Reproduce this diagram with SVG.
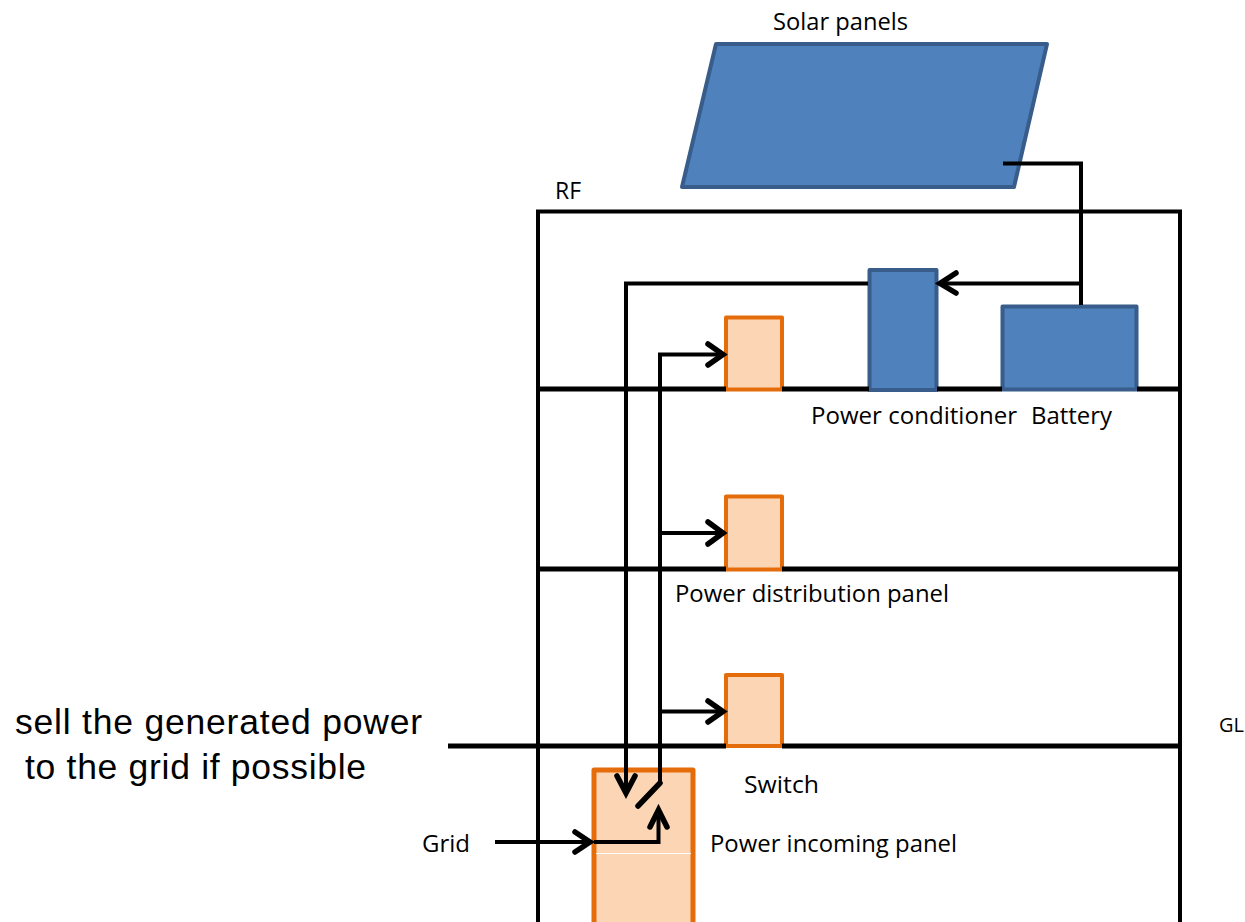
<svg xmlns="http://www.w3.org/2000/svg" width="1245" height="922" viewBox="0 0 1245 922">
<style>
.o{fill:#fcd5b5;stroke:#e46c0a;stroke-width:4;stroke-linejoin:round}
.b{fill:#4f81bd;stroke:#385d8a;stroke-width:4;stroke-linejoin:round}
.w{fill:none;stroke:#000;stroke-width:4;stroke-linejoin:miter}
.f{fill:none;stroke:#000;stroke-width:5}
.a{fill:none;stroke:#000;stroke-width:5.500;stroke-linecap:round;stroke-linejoin:miter}
.t{font-family:"Open Sans","Noto Sans",sans-serif;font-size:24px;fill:#000}
.g{font-family:"Open Sans","Noto Sans",sans-serif;font-size:20px;fill:#000}
.s{font-family:"Liberation Sans",Arial,sans-serif;font-size:35.500px;fill:#000}
</style>
<g id="solar-panels"><path class="b" d="M716 44H1047L1014 187H682Z"/></g>
<g id="power-conditioner"><rect class="b" x="869.500" y="270" width="67" height="120"/></g>
<g id="battery"><rect class="b" x="1002.500" y="306.500" width="134" height="83"/></g>
<g id="panel-rf"><rect class="o" x="726" y="317.500" width="56" height="72"/></g>
<g id="panel-2f"><rect class="o" x="726" y="496.500" width="56" height="73"/></g>
<g id="panel-1f"><rect class="o" x="726" y="675" width="56" height="71"/></g>
<g id="power-incoming-panel">
<path d="M594 770H693V922H594Z" fill="#fcd5b5"/>
<path class="o" d="M594 922V770H693V922" style="fill:none;stroke-width:5"/>
<path d="M596 853.500H691" stroke="#fff" stroke-width="1" fill="none"/>
</g>
<g id="connectors">
<path class="w" d="M538 922V211.500H1180V922"/>
<path class="f" d="M538 389H726M782 389H869M937 389H1002M1137 389H1180"/>
<path class="f" d="M538 569H726M782 569H1180"/>
<path class="f" d="M448 746H726M782 746H1180"/>
<path class="w" d="M1003 163.500H1081V305"/>
<path class="w" d="M1081 283.500H940"/>
<path class="a" d="M956 273L940 283.500L956 293"/>
<path class="w" d="M868 283.500H626V792"/>
<path class="a" d="M617 776L626 793L635 776"/>
<path class="w" d="M660 783V354.500H722"/>
<path class="a" d="M708 344L723 354.500L708 365"/>
<path class="w" d="M660 533H722"/>
<path class="a" d="M708 522L723 533L708 544"/>
<path class="w" d="M660 711.500H722"/>
<path class="a" d="M708 701L723 711.500L708 722"/>
<path class="a" d="M660 783L638 806"/>
<path class="w" d="M594 842H658.500V810"/>
<path class="a" d="M650 827L658.500 810L667 827"/>
<path class="w" d="M495 842H590"/>
<path class="a" d="M575 832L590 842L575 852"/>
</g>
<g id="labels">
<text class="t" x="773" y="30" textLength="135" lengthAdjust="spacingAndGlyphs">Solar panels</text>
<text class="t" x="555" y="199" textLength="26" lengthAdjust="spacingAndGlyphs">RF</text>
<text class="t" x="811" y="424" textLength="206" lengthAdjust="spacingAndGlyphs">Power conditioner</text>
<text class="t" x="1031" y="424" textLength="81" lengthAdjust="spacingAndGlyphs">Battery</text>
<text class="t" x="675" y="602" textLength="274" lengthAdjust="spacingAndGlyphs">Power distribution panel</text>
<text class="g" x="1219" y="732">GL</text>
<text class="t" x="744" y="793" textLength="75" lengthAdjust="spacingAndGlyphs">Switch</text>
<text class="t" x="422" y="852" textLength="48" lengthAdjust="spacingAndGlyphs">Grid</text>
<text class="t" x="710" y="852" textLength="247" lengthAdjust="spacingAndGlyphs">Power incoming panel</text>
<text class="s" x="15" y="734" textLength="407">sell the generated power</text>
<text class="s" x="25" y="779" textLength="341">to the grid if possible</text>
</g>
</svg>
